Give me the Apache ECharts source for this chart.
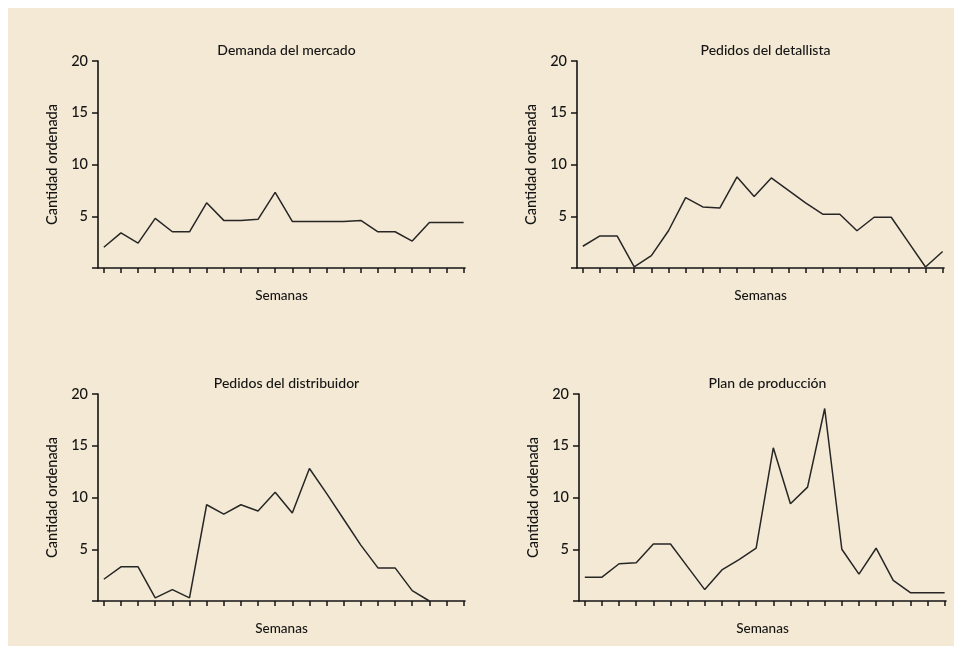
<!DOCTYPE html>
<html>
<head>
<meta charset="utf-8">
<script src="https://cdn.jsdelivr.net/npm/echarts@6/dist/echarts.min.js"></script>
<style>
  html, body { margin: 0; padding: 0; background: #ffffff; }
  #frame { position: absolute; left: 8px; top: 8px; width: 946px; height: 638px; background: #f4e9d4; }
  #chart { position: absolute; left: 0; top: 0; width: 954px; height: 648px; }
</style>
</head>
<body>
<div id="frame"></div>
<div id="chart"></div>
<script>
const weeks = [1, 2, 3, 4, 5, 6, 7, 8, 9, 10, 11, 12, 13, 14, 15, 16, 17, 18, 19, 20, 21, 22];
const yTicks = [0, 5, 10, 15, 20];
const titles = ['Demanda del mercado', 'Pedidos del detallista', 'Pedidos del distribuidor', 'Plan de producción'];

const demanda = [2.0, 3.4, 2.4, 4.8, 3.5, 3.5, 6.3, 4.6, 4.6, 4.7, 7.3, 4.5, 4.5, 4.5, 4.5, 4.6, 3.5, 3.5, 2.6, 4.4, 4.4, 4.4];
const detallista = [2.1, 3.1, 3.1, 0.1, 1.2, 3.6, 6.8, 5.9, 5.8, 8.8, 6.9, 8.7, 7.5, 6.3, 5.2, 5.2, 3.6, 4.9, 4.9, 2.5, 0.1, 1.6];
const distribuidor = [2.1, 3.3, 3.3, 0.3, 1.1, 0.3, 9.3, 8.4, 9.3, 8.7, 10.5, 8.5, 12.8, 10.4, 7.9, 5.4, 3.2, 3.2, 1.0, 0];
const produccion = [2.3, 2.3, 3.6, 3.7, 5.5, 5.5, 3.3, 1.1, 3.0, 4.0, 5.1, 14.8, 9.4, 11.0, 18.6, 5.0, 2.6, 5.1, 2.0, 0.8, 0.8, 0.8];

const seriesData = [demanda, detallista, distribuidor, produccion];

// esquina superior izquierda de cada área de trazado
const boxes = [
  { left: 98, top: 61 },
  { left: 577, top: 61 },
  { left: 98, top: 394 },
  { left: 579, top: 394 },
];
const plotW = 367;
const plotH = 207;

const font = 'Lato, "Open Sans", sans-serif';
const ink = '#141414';

const chart = echarts.init(document.getElementById('chart'));

chart.setOption({
  backgroundColor: 'transparent',
  animation: false,
  title: boxes.map((b, i) => ({
    text: titles[i],
    left: b.left + plotW / 2,
    top: b.top - 23,
    textAlign: 'center',
    textStyle: { fontFamily: font, fontSize: 14, fontWeight: 500, color: ink },
  })),
  grid: boxes.map((b) => ({ left: b.left, top: b.top, width: plotW, height: plotH })),
  xAxis: boxes.map((b, i) => ({
    type: 'value',
    gridIndex: i,
    min: 0.66,
    max: 22.08,
    name: 'Semanas',
    nameLocation: 'middle',
    nameGap: 21,
    nameTextStyle: { fontFamily: font, fontSize: 13.5, fontWeight: 500, color: ink },
    axisLine: { onZero: false, lineStyle: { color: ink, width: 1.6 } },
    axisTick: { show: true, customValues: weeks, length: 5, lineStyle: { color: ink, width: 1.5 } },
    axisLabel: { show: false },
    splitLine: { show: false },
  })),
  yAxis: boxes.map((b, i) => ({
    type: 'value',
    gridIndex: i,
    min: 0,
    max: 20,
    interval: 5,
    name: 'Cantidad ordenada',
    nameLocation: 'middle',
    nameGap: 38,
    nameTextStyle: { fontFamily: font, fontSize: 14.5, fontWeight: 500, color: ink },
    axisLine: { show: true, lineStyle: { color: ink, width: 1.6 } },
    axisTick: { show: true, customValues: yTicks, length: 6, lineStyle: { color: ink, width: 1.5 } },
    axisLabel: {
      margin: 10,
      fontFamily: font,
      fontSize: 14.5,
      fontWeight: 500,
      color: ink,
      formatter: (v) => (v === 0 ? '' : String(v)),
    },
    splitLine: { show: false },
  })),
  series: seriesData.map((vals, i) => ({
    type: 'line',
    xAxisIndex: i,
    yAxisIndex: i,
    symbol: 'none',
    data: vals.map((v, k) => [weeks[k], v]),
    lineStyle: { color: '#262626', width: 1.5 },
  })),
});
</script>
</body>
</html>
